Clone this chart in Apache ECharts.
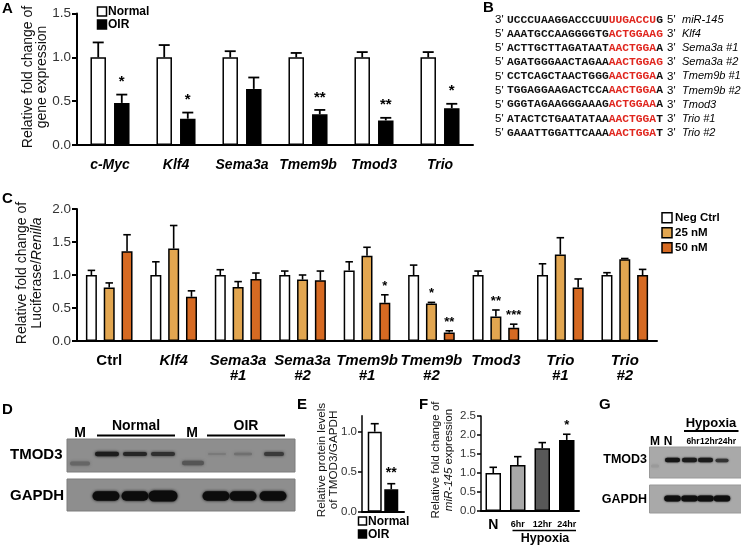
<!DOCTYPE html>
<html><head><meta charset="utf-8">
<script src="https://cdn.jsdelivr.net/npm/echarts@6/dist/echarts.min.js"></script>
<style>html,body{margin:0;padding:0;background:#fff}#c{width:741px;height:546px}</style>
</head><body><div id="c"></div>
<script>
const FONT = 'Liberation Sans';
const MONO = 'Liberation Mono';

// ---------- Panel A ----------
const catsA = ['c-Myc', 'Klf4', 'Sema3a', 'Tmem9b', 'Tmod3', 'Trio'];
const normalA = [1.0, 1.0, 1.0, 1.0, 1.0, 1.0];
const normalAErr = [0.17, 0.14, 0.07, 0.05, 0.06, 0.06];
const oirA = [0.48, 0.30, 0.64, 0.35, 0.28, 0.42];
const oirAErr = [0.095, 0.07, 0.13, 0.05, 0.03, 0.05];
const starsA = ['*', '*', '', '**', '**', '*'];
const ticksA = [0, 0.5, 1.0, 1.5];

// ---------- Panel B ----------
const seqLines = [
  ["3'", 'UCCCUAAGGACCCUU', 'UUGACCU', 'G', "5'", 'miR-145'],
  ["5'", 'AAATGCCAAGGGGTG', 'ACTGGAAG', '', "3'", 'Klf4'],
  ["5'", 'ACTTGCTTAGATAAT', 'AACTGGA', 'A', "3'", 'Sema3a #1'],
  ["5'", 'AGATGGGAACTAGAA', 'AACTGGAG', '', "3'", 'Sema3a #2'],
  ["5'", 'CCTCAGCTAACTGGG', 'AACTGGA', 'A', "3'", 'Tmem9b #1'],
  ["5'", 'TGGAGGAAGACTCCA', 'AACTGGA', 'A', "3'", 'Tmem9b #2'],
  ["5'", 'GGGTAGAAGGGAAAG', 'ACTGGAA', 'A', "3'", 'Tmod3'],
  ["5'", 'ATACTCTGAATATAA', 'AACTGGA', 'T', "3'", 'Trio #1'],
  ["5'", 'GAAATTGGATTCAAA', 'AACTGGA', 'T', "3'", 'Trio #2']
];

// ---------- Panel C ----------
const catsC = ['Ctrl', 'Klf4', 'Sema3a\n#1', 'Sema3a\n#2', 'Tmem9b\n#1', 'Tmem9b\n#2', 'Tmod3', 'Trio\n#1', 'Trio\n#2'];
const negC = [1.0, 1.0, 1.0, 1.0, 1.07, 1.0, 1.0, 1.0, 1.0];
const negCErr = [0.07, 0.20, 0.08, 0.06, 0.13, 0.15, 0.06, 0.17, 0.035];
const nm25C = [0.81, 1.40, 0.82, 0.93, 1.29, 0.57, 0.37, 1.31, 1.24];
const nm25CErr = [0.07, 0.35, 0.08, 0.07, 0.13, 0.015, 0.10, 0.255, 0.01];
const nm50C = [1.36, 0.67, 0.94, 0.92, 0.58, 0.13, 0.20, 0.81, 1.0];
const nm50CErr = [0.25, 0.09, 0.09, 0.14, 0.12, 0.025, 0.055, 0.13, 0.085];
const stars25C = ['', '', '', '', '', '*', '**', '', ''];
const stars50C = ['', '', '', '', '*', '**', '***', '', ''];
const legendC = ['Neg Ctrl', '25 nM', '50 nM'];

// ---------- Panel D / G (blots) ----------
const laneLabelsD = ['M', 'Normal', 'M', 'OIR'];
const laneLabelsG = ['M', 'N', '6hr', '12hr', '24hr'];

// ---------- Panel E ----------
const catsE = ['TMOD3/GAPDH'];
const normalE = [1.0];
const normalEErr = [0.10];
const oirE = [0.28];
const oirEErr = [0.07];
const starsE = ['**'];

// ---------- Panel F ----------
const catsF = ['N', '6hr', '12hr', '24hr'];
const valsF = [1.0, 1.21, 1.65, 1.87];
const errF = [0.15, 0.22, 0.15, 0.15];
const starsF = ['', '', '', '*'];

const COL_25 = '#E2A650';
const COL_50 = '#D66A22';
const fColors = ['#ffffff', '#a8a8a8', '#585858', '#000000'];

function offsets(n, w, g) {
  const step = w * (1 + g);
  const total = n * w + (n - 1) * g * w;
  const res = [];
  for (let i = 0; i < n; i++) res.push(-total / 2 + w / 2 + i * step);
  return res;
}

function errSeries(xi, vals, errs, stars, dx, cfg) {
  return {
    type: 'custom', xAxisIndex: xi, yAxisIndex: xi, z: 5, silent: true, clip: false,
    data: vals.map((v, k) => [k, v, v + errs[k]]),
    renderItem: function (params, api) {
      const k = params.dataIndex;
      const p0 = api.coord([api.value(0), api.value(1)]);
      const p1 = api.coord([api.value(0), api.value(2)]);
      const x = p0[0] + dx;
      const ch = [
        { type: 'line', shape: { x1: x, y1: p0[1], x2: x, y2: p1[1] }, style: { stroke: '#000', lineWidth: cfg.lw } },
        { type: 'line', shape: { x1: x - cfg.cap / 2, y1: p1[1], x2: x + cfg.cap / 2, y2: p1[1] }, style: { stroke: '#000', lineWidth: cfg.lw } }
      ];
      if (stars && stars[k]) {
        ch.push({ type: 'text', x: x, y: p1[1] - cfg.sg,
          style: { text: stars[k], fill: '#000', font: 'bold ' + cfg.ss + 'px ' + FONT, textAlign: 'center', textVerticalAlign: 'middle' } });
      }
      return { type: 'group', children: ch };
    }
  };
}

function valAxis(grid, max, fs, extra) {
  return Object.assign({
    type: 'value', gridIndex: grid, min: 0, max: max, interval: 0.5,
    axisLine: { show: true, lineStyle: { color: '#000', width: 2 } },
    axisTick: { show: true, length: 5, lineStyle: { color: '#000', width: 2 } },
    splitLine: { show: false },
    axisLabel: { color: '#333', fontSize: fs, fontFamily: FONT, margin: 6, formatter: v => v.toFixed(1) }
  }, extra || {});
}

const axLine = { show: true, lineStyle: { color: '#000', width: 2 } };

// bar layouts
const wA = 15.5, gA = 0.52, offA = offsets(2, wA, gA);
const wC = 11, gC = 0.62, offC = offsets(3, wC, gC);
const wE = 14, gE = 0.18, offE = offsets(2, wE, gE);
const wF = 15.5;

const barStyle = (c) => ({ color: c, borderColor: '#000', borderWidth: 1.5 });

// ---------- graphics ----------
const G = [];
function txt(x, y, t, font, opt) {
  G.push(Object.assign({ type: 'text', x: x, y: y, silent: true,
    style: Object.assign({ text: t, font: font, fill: '#000', textAlign: 'left', textVerticalAlign: 'middle' }, (opt && opt.style) || {}) },
    (opt && opt.el) || {}));
}
function line(x1, y1, x2, y2, lw) {
  G.push({ type: 'line', silent: true, shape: { x1, y1, x2, y2 }, style: { stroke: '#000', lineWidth: lw || 2 } });
}
function rect(x, y, w, h, fill, stroke, lw) {
  G.push({ type: 'rect', silent: true, shape: { x, y, width: w, height: h }, style: { fill: fill, stroke: stroke || null, lineWidth: lw || 0 } });
}
function band(cx, cy, w, h, color, blur) {
  G.push({ type: 'rect', silent: true, shape: { x: cx - w / 2, y: cy - h / 2, width: w, height: h, r: h / 2 },
    style: { fill: color, shadowBlur: blur == null ? 3 : blur, shadowColor: color } });
}

// panel letters
const LF = 'bold 15px ' + FONT;
txt(2, 9, 'A', LF); txt(483, 8, 'B', LF); txt(2, 199, 'C', LF);
txt(2, 410, 'D', LF); txt(297, 405, 'E', LF); txt(419, 405, 'F', LF); txt(599, 405, 'G', LF);

// A legend
rect(97.5, 7, 9, 9, '#fff', '#000', 1.5); txt(108, 11.5, 'Normal', 'bold 12px ' + FONT);
rect(97.5, 20, 9, 9, '#000', '#000', 1.5); txt(108, 24.5, 'OIR', 'bold 12px ' + FONT);

// axis titles (rotated)
const R90 = Math.PI / 2;
function vtitle(x, y, t, fs, lh, rich) {
  G.push({ type: 'text', x: x, y: y, rotation: R90, silent: true,
    style: { text: t, font: fs + 'px ' + FONT, fill: '#111', textAlign: 'center', textVerticalAlign: 'middle', lineHeight: lh, rich: rich || {} } });
}
vtitle(35, 77, 'Relative fold change of\ngene expression', 14, 14);
vtitle(30, 273, 'Relative fold change of\nLuciferase/{i|Renilla}', 14, 15,
  { i: { fontStyle: 'italic', fontSize: 14, fontFamily: FONT, fill: '#111', lineHeight: 15 } });
vtitle(328, 460, 'Relative protein levels\nof TMOD3/GAPDH', 11.7, 12.5);
vtitle(442.5, 460, 'Relative fold change of\n{i|miR-145} expression', 11.5, 13,
  { i: { fontStyle: 'italic', fontSize: 11.5, fontFamily: FONT, fill: '#111', lineHeight: 13 } });

// B sequences
seqLines.forEach((L, i) => {
  const y = 20 + i * 14.1;
  txt(495, y, L[0], '11.5px ' + FONT);
  G.push({ type: 'text', x: 507, y: y, silent: true,
    style: { text: '{k|' + L[1] + '}{r|' + L[2] + '}' + (L[3] ? '{k|' + L[3] + '}' : ''),
      textAlign: 'left', textVerticalAlign: 'middle',
      rich: { k: { fill: '#111', fontFamily: MONO, fontSize: 11.3, fontWeight: 'bold' },
              r: { fill: '#e0261e', fontFamily: MONO, fontSize: 11.3, fontWeight: 'bold' } } } });
  txt(667, y, L[4], '11.5px ' + FONT);
  txt(682, y, L[5], 'italic 11px ' + FONT);
});

// C legend
[['#fff'], [COL_25], [COL_50]].forEach((c, i) => {
  const y = 217.7 + i * 15;
  rect(662, y - 5, 10, 10, c[0], '#000', 1.5);
  txt(675, y, legendC[i], 'bold 11.5px ' + FONT);
});

// D blot
txt(10, 455, 'TMOD3', 'bold 15px ' + FONT);
txt(10, 496, 'GAPDH', 'bold 15px ' + FONT);
txt(80, 433, laneLabelsD[0], 'bold 14px ' + FONT, { style: { textAlign: 'center' } });
txt(136, 426, laneLabelsD[1], 'bold 14px ' + FONT, { style: { textAlign: 'center' } });
line(97, 435.5, 175, 435.5, 2);
txt(192, 433, laneLabelsD[2], 'bold 14px ' + FONT, { style: { textAlign: 'center' } });
txt(246, 426, laneLabelsD[3], 'bold 14px ' + FONT, { style: { textAlign: 'center' } });
line(207, 435.5, 285, 435.5, 2);
rect(67, 439, 228, 33, '#8e8e8e', '#7d7d7d', 1);
rect(67, 479, 228, 32, '#8e8e8e', '#7d7d7d', 1);
band(80, 463.5, 20, 4, '#666', 3);
band(193, 463, 22, 4.5, '#555', 3);
band(107, 454, 24, 4.5, '#1c1c1c', 3);
band(135, 454, 24, 4, '#262626', 3);
band(163, 454, 24, 4, '#303030', 3);
band(217, 454, 18, 2, '#7a7a7a', 3);
band(243, 454, 18, 2.5, '#707070', 3);
band(274, 454, 20, 4, '#3a3a3a', 3);
[106, 135, 163, 216, 243, 273].forEach((x, i) => band(x, 496, i === 2 ? 29 : 27, i === 2 ? 11 : 9.5, '#0c0c0c', 3));

// E legend
rect(358.5, 517, 8, 8, '#fff', '#000', 1.5); txt(368, 521.5, 'Normal', 'bold 12px ' + FONT);
rect(358.5, 530, 8, 8, '#000', '#000', 1.5); txt(368, 534.5, 'OIR', 'bold 12px ' + FONT);

// F hypoxia bracket
line(512.5, 530.5, 576, 530.5, 1.5);
txt(545, 538.5, 'Hypoxia', 'bold 12.5px ' + FONT, { style: { textAlign: 'center' } });

// G blot
txt(711, 423, 'Hypoxia', 'bold 13px ' + FONT, { style: { textAlign: 'center' } });
line(684, 431, 738.5, 431, 2);
txt(655, 441.5, laneLabelsG[0], 'bold 12px ' + FONT, { style: { textAlign: 'center' } });
txt(668, 441.5, laneLabelsG[1], 'bold 12px ' + FONT, { style: { textAlign: 'center' } });
txt(693, 441.5, laneLabelsG[2], 'bold 8.5px ' + FONT, { style: { textAlign: 'center' } });
txt(709, 441.5, laneLabelsG[3], 'bold 8.5px ' + FONT, { style: { textAlign: 'center' } });
txt(727, 441.5, laneLabelsG[4], 'bold 8.5px ' + FONT, { style: { textAlign: 'center' } });
txt(647, 460, 'TMOD3', 'bold 12.5px ' + FONT, { style: { textAlign: 'right' } });
txt(647, 500, 'GAPDH', 'bold 12.5px ' + FONT, { style: { textAlign: 'right' } });
rect(649.5, 447, 92, 31, '#a9a9a9', '#999', 1);
rect(649.5, 485, 92, 28, '#a9a9a9', '#999', 1);
band(655, 466, 8, 3, '#9a9a9a', 3);
band(672.5, 460, 15, 4.5, '#151515', 2);
band(689.5, 460, 15, 4.5, '#1a1a1a', 2);
band(705.5, 460, 15, 4.5, '#1a1a1a', 2);
band(722, 460.5, 13, 3.5, '#333', 2);
[672.5, 689.5, 705.5, 722].forEach(x => band(x, 498.5, 16.5, 6, '#0e0e0e', 2));

// ---------- option ----------
const option = {
  animation: false,
  backgroundColor: '#fff',
  grid: [
    { left: 77, top: 13.5, width: 396, height: 131.5 },
    { left: 77, top: 209, width: 580, height: 132 },
    { left: 362, top: 415.7, width: 42, height: 96 },
    { left: 481, top: 416, width: 98, height: 95 }
  ],
  xAxis: [
    { type: 'category', gridIndex: 0, data: catsA, axisLine: axLine,
      axisTick: { alignWithLabel: true, length: 5, lineStyle: { color: '#000', width: 2 } },
      axisLabel: { interval: 0, color: '#000', fontFamily: FONT, fontSize: 14, fontWeight: 'bold', fontStyle: 'italic', margin: 13 } },
    { type: 'category', gridIndex: 1, data: catsC, axisLine: axLine,
      axisTick: { alignWithLabel: true, length: 5, lineStyle: { color: '#000', width: 2 } },
      axisLabel: { interval: 0, margin: 12, color: '#000',
        formatter: v => v === 'Ctrl' ? '{n|Ctrl}' : v.split('\n').map(s => '{i|' + s + '}').join('\n'),
        rich: { n: { fontFamily: FONT, fontSize: 15, fontWeight: 'bold', color: '#000', lineHeight: 15 },
                i: { fontFamily: FONT, fontSize: 15, fontWeight: 'bold', fontStyle: 'italic', color: '#000', lineHeight: 15 } } } },
    { type: 'category', gridIndex: 2, data: catsE, axisLine: axLine, axisTick: { show: false }, axisLabel: { show: false } },
    { type: 'category', gridIndex: 3, data: catsF, axisLine: axLine, axisTick: { show: false },
      axisLabel: { interval: 0, margin: 7, color: '#000',
        formatter: (v, i) => i === 0 ? '{b|' + v + '}' : '{s|' + v + '}',
        rich: { b: { fontFamily: FONT, fontSize: 14, fontWeight: 'bold', color: '#000', lineHeight: 14 },
                s: { fontFamily: FONT, fontSize: 9, fontWeight: 'bold', color: '#000', lineHeight: 14 } } } }
  ],
  yAxis: [
    valAxis(0, ticksA[ticksA.length - 1], 13.5),
    valAxis(1, 2.0, 13.5),
    valAxis(2, 1.2, 11.5, {
      axisTick: { show: true, length: 4, lineStyle: { color: '#000', width: 1.5 }, customValues: [0, 0.5, 1.0] },
      axisLabel: { color: '#333', fontSize: 11.5, fontFamily: FONT, margin: 5, formatter: v => v.toFixed(1), customValues: [0, 0.5, 1.0] },
      axisLine: { show: true, lineStyle: { color: '#000', width: 1.5 } } }),
    valAxis(3, 2.5, 11.5, {
      axisTick: { show: true, length: 4, lineStyle: { color: '#000', width: 1.5 } },
      axisLabel: { color: '#333', fontSize: 11.5, fontFamily: FONT, margin: 5, formatter: v => v.toFixed(1) },
      axisLine: { show: true, lineStyle: { color: '#000', width: 1.5 } } })
  ],
  series: [
    { type: 'bar', xAxisIndex: 0, yAxisIndex: 0, data: normalA, barWidth: wA, barGap: (gA * 100) + '%', itemStyle: barStyle('#fff') },
    { type: 'bar', xAxisIndex: 0, yAxisIndex: 0, data: oirA, barWidth: wA, barGap: (gA * 100) + '%', itemStyle: barStyle('#000') },
    errSeries(0, normalA, normalAErr, null, offA[0], { lw: 1.8, cap: 11, sg: 12.5, ss: 15 }),
    errSeries(0, oirA, oirAErr, starsA, offA[1], { lw: 1.8, cap: 11, sg: 12.5, ss: 15 }),

    { type: 'bar', xAxisIndex: 1, yAxisIndex: 1, data: negC, barWidth: wC, barGap: (gC * 100) + '%', itemStyle: barStyle('#fff') },
    { type: 'bar', xAxisIndex: 1, yAxisIndex: 1, data: nm25C, barWidth: wC, barGap: (gC * 100) + '%', itemStyle: barStyle(COL_25) },
    { type: 'bar', xAxisIndex: 1, yAxisIndex: 1, data: nm50C, barWidth: wC, barGap: (gC * 100) + '%', itemStyle: barStyle(COL_50) },
    errSeries(1, negC, negCErr, null, offC[0], { lw: 1.6, cap: 7.5, sg: 8.8, ss: 13 }),
    errSeries(1, nm25C, nm25CErr, stars25C, offC[1], { lw: 1.6, cap: 7.5, sg: 8.8, ss: 13 }),
    errSeries(1, nm50C, nm50CErr, stars50C, offC[2], { lw: 1.6, cap: 7.5, sg: 8.8, ss: 13 }),

    { type: 'bar', xAxisIndex: 2, yAxisIndex: 2, data: normalE, barWidth: wE, barGap: (gE * 100) + '%', itemStyle: barStyle('#fff') },
    { type: 'bar', xAxisIndex: 2, yAxisIndex: 2, data: oirE, barWidth: wE, barGap: (gE * 100) + '%', itemStyle: barStyle('#000') },
    errSeries(2, normalE, normalEErr, null, offE[0], { lw: 1.6, cap: 8, sg: 11, ss: 14 }),
    errSeries(2, oirE, oirEErr, starsE, offE[1], { lw: 1.6, cap: 8, sg: 11, ss: 14 }),

    { type: 'bar', xAxisIndex: 3, yAxisIndex: 3, barWidth: wF,
      data: valsF.map((v, i) => ({ value: v, itemStyle: barStyle(fColors[i]) })) },
    errSeries(3, valsF, errF, starsF, 0, { lw: 1.6, cap: 7.5, sg: 8.8, ss: 13 })
  ],
  graphic: G
};

const chart = echarts.init(document.getElementById('c'), null, { renderer: 'canvas', width: 741, height: 546 });
chart.setOption(option);
</script>
</body></html>
